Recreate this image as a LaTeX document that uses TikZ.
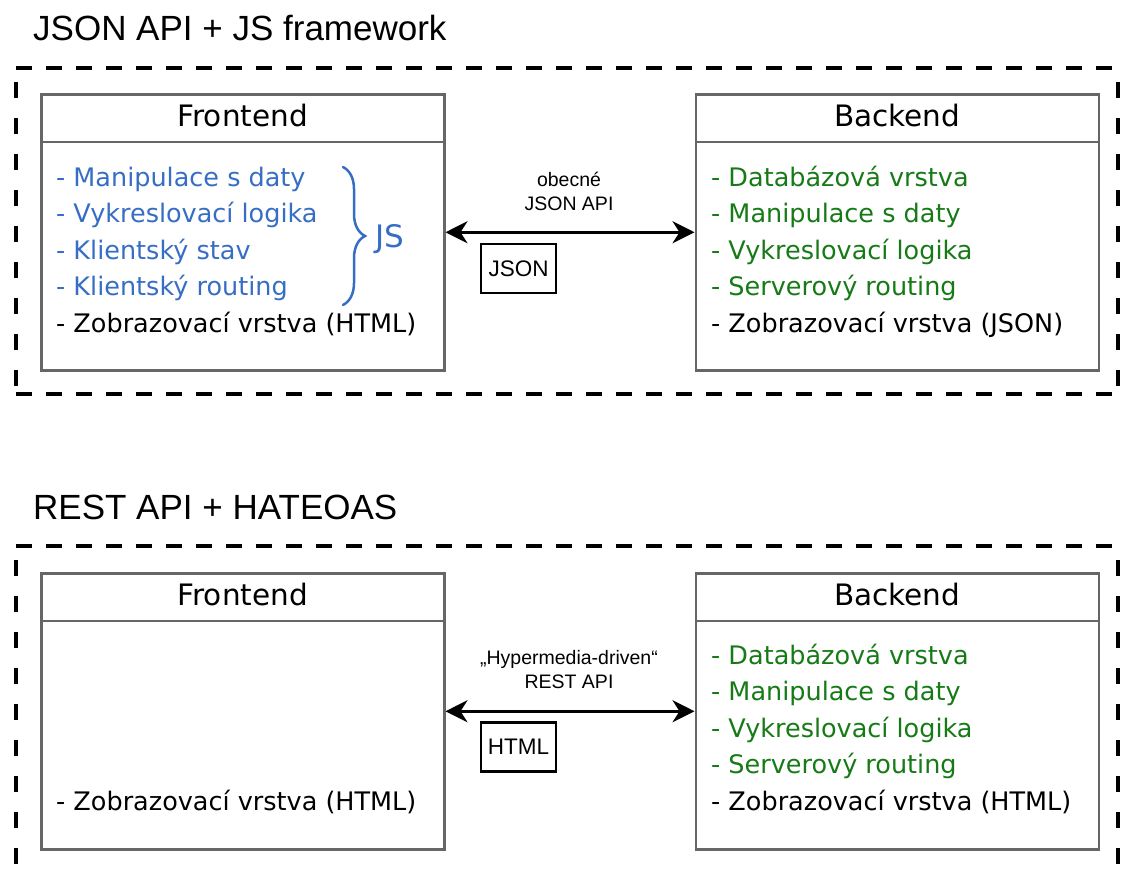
\documentclass[tikz,border=0pt]{standalone}
\usepackage{fontspec}
\setmainfont{DejaVu Sans}
\newfontfamily\arialfont{Liberation Sans}
\usetikzlibrary{arrows.meta, positioning, decorations.pathreplacing}
\definecolor{jsblue}{RGB}{54,110,196}
\definecolor{srvgreen}{RGB}{22,122,22}
\definecolor{panelgray}{RGB}{102,102,102}
\tikzset{
  panel/.style={draw=panelgray, line width=2.5pt, rectangle, minimum width=403pt, minimum height=276pt, anchor=north west, inner sep=0pt},
  panelline/.style={draw=panelgray, line width=2.5pt},
  hdr/.style={font=\fontsize{29.5}{34}\selectfont, anchor=base, inner sep=0pt},
  item/.style={font=\fontsize{25.5}{30}\selectfont, anchor=base west, inner sep=0pt},
  front/.style={item, text=jsblue},
  back/.style={item, text=srvgreen},
  outerh/.style={line width=4pt, dash pattern=on 16pt off 14pt},
  outerv/.style={line width=4pt, dash pattern=on 16pt off 20pt, dash phase=22pt},
  sectitle/.style={font=\arialfont\fontsize{35}{40}\selectfont, anchor=base west, inner sep=0pt},
  apilabel/.style={font=\arialfont\fontsize{19.5}{24}\selectfont, align=center, anchor=south, inner sep=0pt},
  fmtbox/.style={draw, line width=2.5pt, minimum width=75pt, minimum height=49pt, font=\arialfont\fontsize{22.5}{27}\selectfont, inner sep=0pt},
  link/.style={line width=2.5pt, {Stealth[length=22pt,width=22pt,inset=7pt]}-{Stealth[length=22pt,width=22pt,inset=7pt]}},
  jsbrace/.style={draw=jsblue, line width=2.5pt, line cap=round, decorate, decoration={brace, amplitude=22pt}}
}

\begin{document}
\begin{tikzpicture}[x=1pt, y=-1pt]
\useasboundingbox (0,0) rectangle (1121,868);

% JSON API + JS framework
\node[sectitle] (title1) at (33,40) {JSON API + JS framework};
\draw[outerh] (16,68) -- (1118,68) (16,394) -- (1118,394);
\draw[outerv] (16,68) -- (16,394) (1118,68) -- (1118,394);

\node[panel] (fe1) at (40,93) {};
\node[panel, right=249pt of fe1] (be1) {};
\draw[panelline] ([yshift=-49pt]fe1.north west) -- ([yshift=-49pt]fe1.north east);
\draw[panelline] ([yshift=-49pt]be1.north west) -- ([yshift=-49pt]be1.north east);
\node[hdr] (fe1h) at ([yshift=-33pt]fe1.north) {Frontend};
\node[hdr] (be1h) at ([yshift=-33pt]be1.north) {Backend};

\foreach \txt [count=\i] in {Manipulace s daty, Vykreslovací logika, Klientský stav, Klientský routing}
  \node[front] (fe1-\i) at (56,149.5+36.5*\i) {- \txt};
\node[item] (fe1-5) at (56,332) {- Zobrazovací vrstva (HTML)};
\draw[jsbrace] (343,167) -- (343,305);
\node[font=\fontsize{31}{34}\selectfont, text=jsblue, anchor=base west, inner sep=0pt] (js1) at (375,247) {JS};

\foreach \txt [count=\i] in {Databázová vrstva, Manipulace s daty, Vykreslovací logika, Serverový routing}
  \node[back] (be1-\i) at (711,149.5+36.5*\i) {- \txt};
\node[item] (be1-5) at (711,332) {- Zobrazovací vrstva (JSON)};

\draw[link] (fe1.east) -- (be1.west);
\node[apilabel] (api1) at (569,211) {obecné\\JSON API};
\node[fmtbox] (fmt1) at (518.5,268.5) {JSON};

% REST API + HATEOAS
\node[sectitle] (title2) at (33,519) {REST API + HATEOAS};
\draw[outerh] (16,546) -- (1118,546);
\draw[outerv] (16,546) -- (16,880) (1118,546) -- (1118,880);

\node[panel] (fe2) at (40,572) {};
\node[panel, right=249pt of fe2] (be2) {};
\draw[panelline] ([yshift=-49pt]fe2.north west) -- ([yshift=-49pt]fe2.north east);
\draw[panelline] ([yshift=-49pt]be2.north west) -- ([yshift=-49pt]be2.north east);
\node[hdr] (fe2h) at ([yshift=-33pt]fe2.north) {Frontend};
\node[hdr] (be2h) at ([yshift=-33pt]be2.north) {Backend};

\node[item] (fe2-5) at (56,810) {- Zobrazovací vrstva (HTML)};

\foreach \txt [count=\i] in {Databázová vrstva, Manipulace s daty, Vykreslovací logika, Serverový routing}
  \node[back] (be2-\i) at (711,627.5+36.5*\i) {- \txt};
\node[item] (be2-5) at (711,810) {- Zobrazovací vrstva (HTML)};

\draw[link] (fe2.east) -- (be2.west);
\node[apilabel] (api2) at (569,689) {„Hypermedia-driven“\\REST API};
\node[fmtbox] (fmt2) at (518.5,747) {HTML};
\end{tikzpicture}
\end{document}
